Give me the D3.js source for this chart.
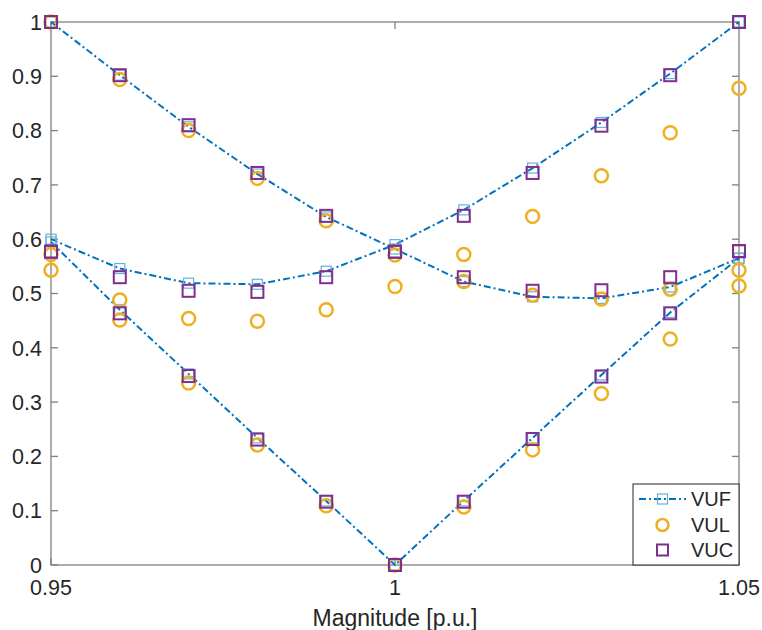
<!DOCTYPE html>
<html>
<head>
<meta charset="utf-8">
<script src="https://cdn.jsdelivr.net/npm/d3@7"></script>
<style>
  html, body { margin: 0; padding: 0; background: #fff; }
  svg { display: block; font-family: Arial, "Liberation Sans", sans-serif; }
</style>
</head>
<body>
<div id="chart"></div>
<script>
/* --- Data --- */
const magnitude = [0.95, 0.96, 0.97, 0.98, 0.99, 1.00, 1.01, 1.02, 1.03, 1.04, 1.05];
const xTicks = [0.95, 1, 1.05];
const yTicks = [0, 0.1, 0.2, 0.3, 0.4, 0.5, 0.6, 0.7, 0.8, 0.9, 1];

// VUF (three curves, drawn with dash-dot lines)
const vufA = [1.0, 0.902, 0.807, 0.72, 0.641, 0.582, 0.522, 0.494, 0.491, 0.512, 0.565];
const vufB = [0.6, 0.546, 0.519, 0.517, 0.541, 0.59, 0.654, 0.731, 0.815, 0.905, 1.0];
const vufC = [0.595, 0.47, 0.352, 0.234, 0.118, 0, 0.118, 0.234, 0.35, 0.465, 0.565];

// VUL (circles only)
const vulA = [1.0, 0.894, 0.8, 0.712, 0.634, 0.571, 0.522, 0.497, 0.49, 0.508, 0.543];
const vulB = [0.543, 0.488, 0.454, 0.449, 0.47, 0.513, 0.572, 0.642, 0.717, 0.796, 0.878];
const vulC = [0.572, 0.451, 0.335, 0.221, 0.109, 0, 0.107, 0.212, 0.316, 0.416, 0.514];

// VUC (squares only)
const vucA = [1.0, 0.902, 0.81, 0.722, 0.643, 0.577, 0.53, 0.505, 0.506, 0.53, 0.578];
const vucB = [0.577, 0.53, 0.505, 0.503, 0.53, 0.577, 0.643, 0.722, 0.809, 0.902, 1.0];
const vucC = [0.577, 0.4635, 0.348, 0.231, 0.1166, 0, 0.1166, 0.232, 0.347, 0.4635, 0.578];

/* --- Config --- */
const COLORS = {
    vuf: '#0072BD',
    vufMarker: '#6aaedc',
    vul: '#EDB120',
    vuc: '#7E2F8E',
    axis: '#808080',
    text: '#262626'
};

const width = 762, height = 630;
const margin = { top: 22, right: 23, bottom: 65, left: 51 };
const innerW = width - margin.left - margin.right;
const innerH = height - margin.top - margin.bottom;

const svg = d3.select('#chart').append('svg')
    .attr('width', width)
    .attr('height', height);

const g = svg.append('g')
    .attr('transform', `translate(${margin.left},${margin.top})`);

const x = d3.scaleLinear().domain([0.95, 1.05]).range([0, innerW]);
const y = d3.scaleLinear().domain([0, 1]).range([innerH, 0]);

const toPoints = vals => vals.map((v, i) => ({ x: magnitude[i], y: v }));

// Box + ticks (MATLAB style, ticks inward on all sides)
const tickLen = 7;
g.append('rect')
    .attr('width', innerW).attr('height', innerH)
    .attr('fill', 'none').attr('stroke', COLORS.axis).attr('stroke-width', 1.3);

yTicks.forEach(t => {
    g.append('line').attr('x1', 0).attr('x2', tickLen).attr('y1', y(t)).attr('y2', y(t))
        .attr('stroke', COLORS.axis).attr('stroke-width', 1.3);
    g.append('line').attr('x1', innerW - tickLen).attr('x2', innerW).attr('y1', y(t)).attr('y2', y(t))
        .attr('stroke', COLORS.axis).attr('stroke-width', 1.3);
    g.append('text')
        .attr('x', -9).attr('y', y(t)).attr('dy', '0.36em')
        .attr('text-anchor', 'end')
        .attr('fill', COLORS.text).style('font-size', '21.5px')
        .text(d3.format('~g')(t));
});

xTicks.forEach(t => {
    g.append('line').attr('x1', x(t)).attr('x2', x(t)).attr('y1', innerH).attr('y2', innerH - tickLen)
        .attr('stroke', COLORS.axis).attr('stroke-width', 1.3);
    g.append('line').attr('x1', x(t)).attr('x2', x(t)).attr('y1', 0).attr('y2', tickLen)
        .attr('stroke', COLORS.axis).attr('stroke-width', 1.3);
    g.append('text')
        .attr('x', x(t)).attr('y', innerH + 30)
        .attr('text-anchor', 'middle')
        .attr('fill', COLORS.text).style('font-size', '21.5px')
        .text(d3.format('~g')(t));
});

g.append('text')
    .attr('x', innerW / 2).attr('y', innerH + 61)
    .attr('text-anchor', 'middle')
    .attr('fill', COLORS.text).style('font-size', '23px')
    .text('Magnitude [p.u.]');

/* --- Series --- */
const line = d3.line().x(d => x(d.x)).y(d => y(d.y));

[vufA, vufB, vufC].forEach(vals => {
    g.append('path')
        .datum(toPoints(vals))
        .attr('fill', 'none')
        .attr('stroke', COLORS.vuf)
        .attr('stroke-width', 2)
        .attr('stroke-dasharray', '7,3,2,3')
        .attr('d', line);
});

function drawSquares(vals, size, color, sw) {
    g.append('g').selectAll('rect')
        .data(toPoints(vals))
        .join('rect')
        .attr('x', d => x(d.x) - size / 2)
        .attr('y', d => y(d.y) - size / 2)
        .attr('width', size).attr('height', size)
        .attr('fill', 'none')
        .attr('stroke', color)
        .attr('stroke-width', sw);
}

function drawCircles(vals, r, color, sw) {
    g.append('g').selectAll('circle')
        .data(toPoints(vals))
        .join('circle')
        .attr('cx', d => x(d.x))
        .attr('cy', d => y(d.y))
        .attr('r', r)
        .attr('fill', 'none')
        .attr('stroke', color)
        .attr('stroke-width', sw);
}

[vufA, vufB, vufC].forEach(v => drawSquares(v, 10, COLORS.vufMarker, 1.2));
[vulA, vulB, vulC].forEach(v => drawCircles(v, 6.5, COLORS.vul, 2.5));
[vucA, vucB, vucC].forEach(v => drawSquares(v, 12, COLORS.vuc, 2));

/* --- Legend --- */
const legend = g.append('g')
    .attr('transform', `translate(${innerW - 106},${innerH - 81})`);

legend.append('rect')
    .attr('width', 106).attr('height', 81)
    .attr('fill', '#fff')
    .attr('stroke', '#262626').attr('stroke-width', 1);

const rows = [
    { name: 'VUF', y: 15 },
    { name: 'VUL', y: 41 },
    { name: 'VUC', y: 66 }
];

legend.append('line')
    .attr('x1', 6).attr('x2', 53).attr('y1', rows[0].y).attr('y2', rows[0].y)
    .attr('stroke', COLORS.vuf).attr('stroke-width', 2)
    .attr('stroke-dasharray', '7,3,2,3');
legend.append('rect')
    .attr('x', 29.5 - 5).attr('y', rows[0].y - 5).attr('width', 10).attr('height', 10)
    .attr('fill', 'none').attr('stroke', COLORS.vufMarker).attr('stroke-width', 1.2);
legend.append('circle')
    .attr('cx', 29.5).attr('cy', rows[1].y).attr('r', 6)
    .attr('fill', 'none').attr('stroke', COLORS.vul).attr('stroke-width', 2.5);
legend.append('rect')
    .attr('x', 29.5 - 5.5).attr('y', rows[2].y - 5.5).attr('width', 11).attr('height', 11)
    .attr('fill', 'none').attr('stroke', COLORS.vuc).attr('stroke-width', 2);

rows.forEach(r => {
    legend.append('text')
        .attr('x', 58).attr('y', r.y).attr('dy', '0.36em')
        .attr('fill', COLORS.text).style('font-size', '20px')
        .text(r.name);
});
</script>
</body>
</html>
